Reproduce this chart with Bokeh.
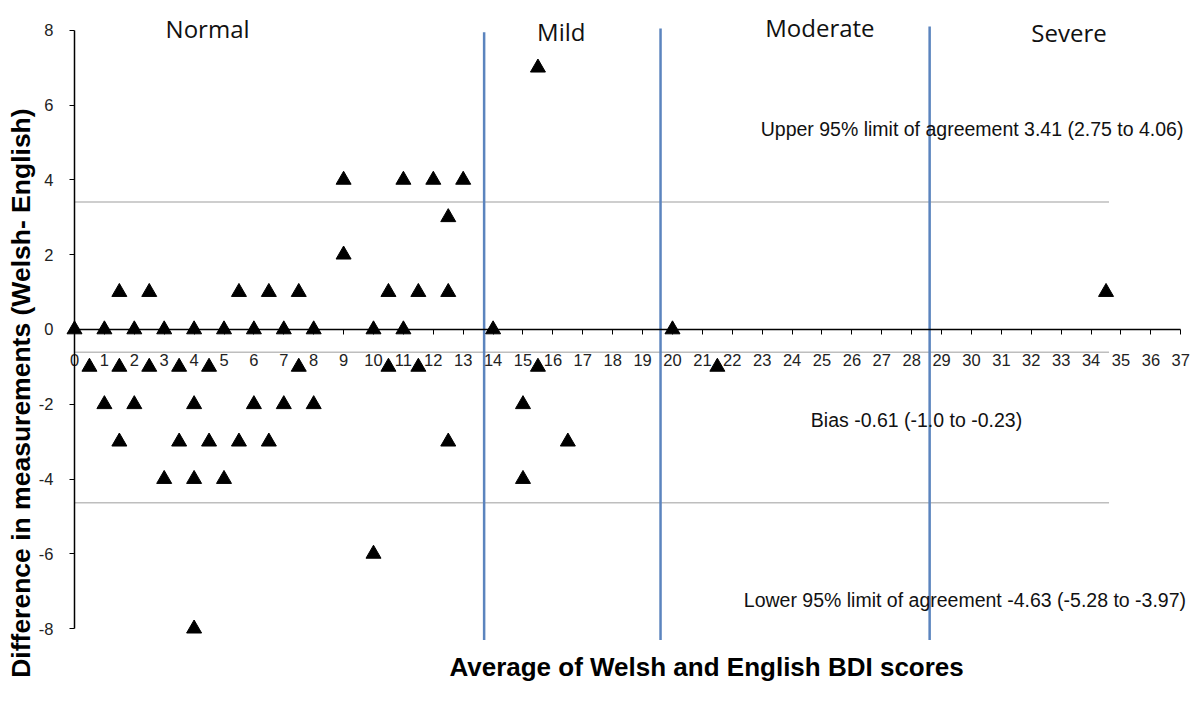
from bokeh.plotting import figure
from bokeh.models import Label, FixedTicker, Range1d
from bokeh.embed import file_html
from bokeh.resources import INLINE

# ---- data ----
avg_scores = [15.5,
              9, 11, 12, 13,
              12.5,
              9,
              1.5, 2.5, 5.5, 6.5, 7.5, 10.5, 11.5, 12.5, 34.5,
              0, 1, 2, 3, 4, 5, 6, 7, 8, 10, 11, 14, 20,
              0.5, 1.5, 2.5, 3.5, 4.5, 7.5, 10.5, 11.5, 15.5, 21.5,
              1, 2, 4, 6, 7, 8, 15,
              1.5, 3.5, 4.5, 5.5, 6.5, 12.5, 16.5,
              3, 4, 5, 15,
              10,
              4]
differences = [7,
               4, 4, 4, 4,
               3,
               2,
               1, 1, 1, 1, 1, 1, 1, 1, 1,
               0, 0, 0, 0, 0, 0, 0, 0, 0, 0, 0, 0, 0,
               -1, -1, -1, -1, -1, -1, -1, -1, -1, -1,
               -2, -2, -2, -2, -2, -2, -2,
               -3, -3, -3, -3, -3, -3, -3,
               -4, -4, -4, -4,
               -6,
               -8]

limit_values = [3.41, -0.61, -4.63]          # upper LoA, bias, lower LoA
limit_texts = ["Upper 95% limit of agreement 3.41 (2.75 to 4.06)",
               "Bias -0.61 (-1.0 to -0.23)",
               "Lower 95% limit of agreement -4.63 (-5.28 to -3.97)"]
cutoffs = [13.7, 19.6, 28.6]                  # severity boundaries
categories = ["Normal", "Mild", "Moderate", "Severe"]
x_ticks = list(range(0, 38))
y_ticks = [-8, -6, -4, -2, 0, 2, 4, 6, 8]
y_tick_labels = ["-8", "-6", "-4", "-2", "0", "2", "4", "6", "8"]

x_title = "Average of Welsh and English BDI scores"
y_title = "Difference in measurements (Welsh- English)"

# ---- figure (frame fills the whole canvas so nothing is clipped) ----
p = figure(frame_width=1200, frame_height=701,
           x_range=Range1d(-2.475, 37.659), y_range=Range1d(-9.947, 8.797),
           output_backend="svg", toolbar_location=None,
           min_border_left=0, min_border_right=0,
           min_border_top=0, min_border_bottom=0)
p.outline_line_color = None
p.xgrid.visible = False
p.ygrid.visible = False
p.background_fill_color = "white"
p.border_fill_color = "white"

# limit-of-agreement lines (grey)
p.segment(x0=[0] * len(limit_values), y0=limit_values,
          x1=[34.6] * len(limit_values), y1=limit_values,
          line_color="#BEBEBE", line_width=1.5)

# severity boundary lines (blue)
p.segment(x0=cutoffs, y0=[-8.3] * len(cutoffs),
          x1=cutoffs, y1=[7.95, 8.05, 8.1],
          line_color="#5B84BE", line_width=2.5)

# points
p.scatter(avg_scores, differences, marker="triangle", size=15,
          fill_color="black", line_color="black")

# axes
xa = p.xaxis[0]
xa.fixed_location = 0
xa.ticker = FixedTicker(ticks=x_ticks)
xa.bounds = (0, 37)
xa.axis_line_color = "black"
xa.axis_line_width = 1.5
xa.major_tick_in = 0
xa.major_tick_out = 5
xa.major_tick_line_color = "black"
xa.minor_tick_line_color = None
xa.major_label_standoff = 20
xa.major_label_text_font = "Liberation Sans"
xa.major_label_text_font_size = "16.5px"
xa.major_label_text_color = "#222222"

ya = p.yaxis[0]
ya.fixed_location = 0
ya.ticker = FixedTicker(ticks=y_ticks)
ya.major_label_overrides = {t: s for t, s in zip(y_ticks, y_tick_labels)}
ya.bounds = (-8, 8)
ya.axis_line_color = "black"
ya.axis_line_width = 1.5
ya.major_tick_in = 0
ya.major_tick_out = 5
ya.major_tick_line_color = "black"
ya.minor_tick_line_color = None
ya.major_label_standoff = 16
ya.major_label_text_font = "Liberation Sans"
ya.major_label_text_font_size = "16.5px"
ya.major_label_text_color = "#222222"

# category labels
cat_pos = [(4.45, 8.05), (16.28, 7.97), (24.93, 8.07), (33.26, 7.94)]
for name, (cx, cy) in zip(categories, cat_pos):
    p.add_layout(Label(x=cx, y=cy, text=name, text_align="center",
                       text_baseline="middle", text_font="Open Sans",
                       text_font_size="24px", text_color="#111111"))

# limit annotations
lim_pos = [(30.02, 5.35), (28.16, -2.43), (29.78, -7.22)]
for txt, (lx, ly) in zip(limit_texts, lim_pos):
    p.add_layout(Label(x=lx, y=ly, text=txt, text_align="center",
                       text_baseline="middle", text_font="Liberation Sans",
                       text_font_size="19.5px", text_color="#111111"))

# axis titles
p.add_layout(Label(x=21.14, y=-9.02, text=x_title, text_align="center",
                   text_baseline="middle", text_font="Liberation Sans",
                   text_font_style="bold", text_font_size="26px",
                   text_color="black"))
p.add_layout(Label(x=-1.79, y=-1.7, text=y_title, angle=90,
                   angle_units="deg", text_align="center",
                   text_baseline="middle", text_font="Liberation Sans",
                   text_font_style="bold", text_font_size="26.5px",
                   text_color="black"))

open("out.html", "w").write(file_html(p, INLINE))
